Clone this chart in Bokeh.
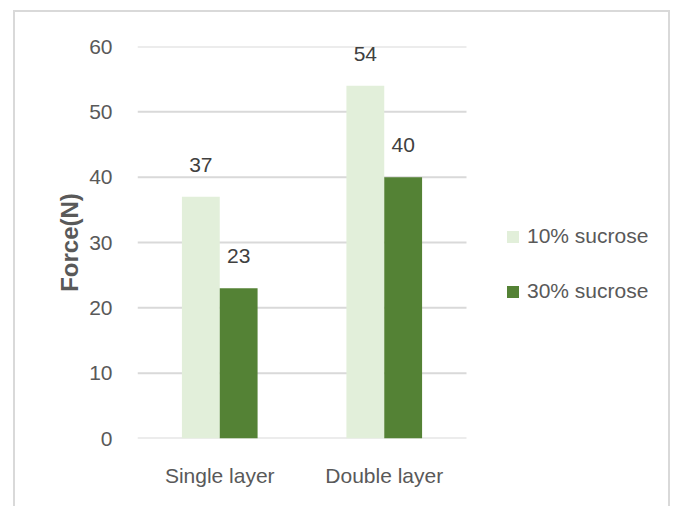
from bokeh.plotting import figure
from bokeh.models import ColumnDataSource, LabelSet, Legend, LegendItem, Range1d, FixedTicker
from bokeh.core.properties import value
from bokeh.transform import dodge
from bokeh.embed import file_html
from bokeh.resources import INLINE

categories = ["Single layer", "Double layer"]
sucrose_10 = [37, 54]
sucrose_30 = [23, 40]
series_names = ["10% sucrose", "30% sucrose"]
y_ticks = [0, 10, 20, 30, 40, 50, 60]

FONT = "Liberation Sans"
TXT = "#595959"
SIZE = "21px"

n = len(categories)
centers = [i + 0.5 for i in range(n)]
src = ColumnDataSource(dict(x=centers, a=sucrose_10, b=sucrose_30,
                            la=[str(v) for v in sucrose_10], lb=[str(v) for v in sucrose_30]))
grid_src = ColumnDataSource(dict(y=y_ticks, x0=[0] * len(y_ticks), x1=[n] * len(y_ticks)))

p = figure(width=678, height=506, x_range=Range1d(0, n * 529 / 329), y_range=Range1d(0, 60),
           output_backend="svg", toolbar_location=None,
           min_border_left=137, min_border_right=12, min_border_top=46, min_border_bottom=68)
p.outline_line_color = None
p.background_fill_alpha = 0
p.border_fill_alpha = 0
line = "linear-gradient(#D9D9D9, #D9D9D9)"
p.styles = {"background": (f"{line} 13px 10px / 2px 520px no-repeat, "
                           f"{line} 13px 10px / 657px 2px no-repeat, "
                           f"{line} 668px 10px / 2px 520px no-repeat, white")}
p.xgrid.grid_line_color = None
p.ygrid.grid_line_color = None

p.segment(x0="x0", x1="x1", y0="y", y1="y", source=grid_src, line_color="#D9D9D9", line_width=2)

r1 = p.vbar(x=dodge("x", -0.115), top="a", width=0.23, source=src,
            fill_color="#E2EFDA", line_color=None)
r2 = p.vbar(x=dodge("x", 0.115), top="b", width=0.23, source=src,
            fill_color="#548235", line_color=None)

for col, lab, off in (("a", "la", -0.115), ("b", "lb", 0.115)):
    p.add_layout(LabelSet(x=dodge("x", off), y=col, text=lab, source=src,
                          text_align="center", text_baseline="alphabetic", y_offset=25,
                          text_font=value(FONT), text_font_size=SIZE, text_color="#404040"))

p.yaxis.ticker = FixedTicker(ticks=y_ticks)
p.yaxis.axis_line_color = None
p.yaxis.major_tick_line_color = None
p.yaxis.minor_tick_line_color = None
p.yaxis.major_label_text_font = FONT
p.yaxis.major_label_text_font_size = SIZE
p.yaxis.major_label_text_color = TXT
p.yaxis.major_label_standoff = 19
p.yaxis.axis_label = "Force(N)"
p.yaxis.axis_label_text_font = FONT
p.yaxis.axis_label_text_font_size = "24px"
p.yaxis.axis_label_text_font_style = "bold"
p.yaxis.axis_label_text_color = TXT
p.yaxis.axis_label_standoff = 3

p.xaxis.ticker = FixedTicker(ticks=centers)
p.xaxis.major_label_overrides = {c: name for c, name in zip(centers, categories)}
p.xaxis.axis_line_color = None
p.xaxis.major_tick_line_color = None
p.xaxis.minor_tick_line_color = None
p.xaxis.major_label_text_font = FONT
p.xaxis.major_label_text_font_size = SIZE
p.xaxis.major_label_text_color = TXT
p.xaxis.major_label_standoff = 19

legend = Legend(items=[LegendItem(label=series_names[0], renderers=[r1]),
                       LegendItem(label=series_names[1], renderers=[r2])],
                location=(368, 135), orientation="vertical",
                glyph_width=15, glyph_height=15, label_standoff=7, spacing=31,
                padding=0, margin=0, border_line_color=None, background_fill_alpha=0,
                label_text_font=FONT, label_text_font_size=SIZE, label_text_color=TXT)
p.add_layout(legend, "center")

open("out.html", "w").write(file_html(p, INLINE))
